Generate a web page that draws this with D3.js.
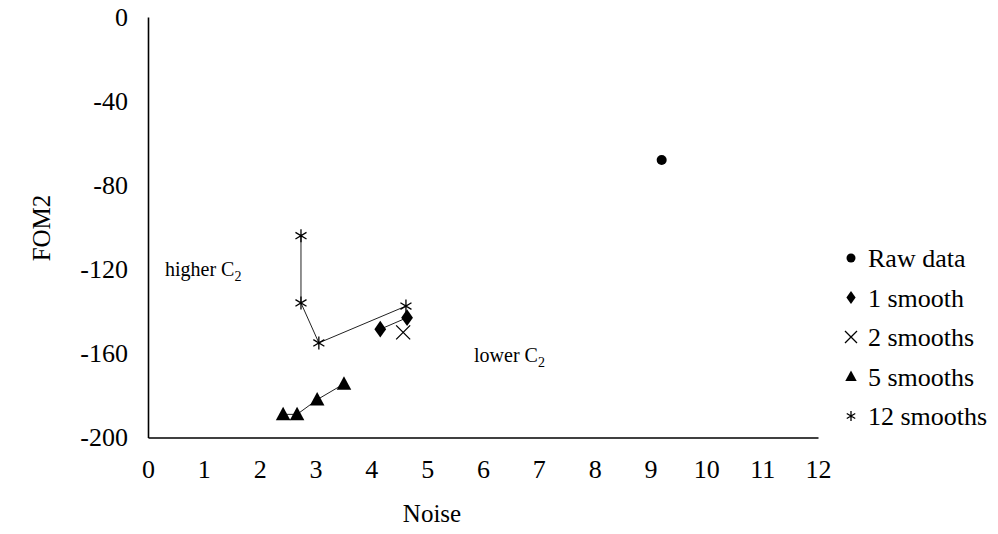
<!DOCTYPE html>
<html>
<head>
<meta charset="utf-8">
<script src="https://cdn.jsdelivr.net/npm/d3@7"></script>
<style>
  body { margin: 0; background: #fff; }
  svg text { font-family: "Liberation Serif", "Times New Roman", serif; fill: #000; }
</style>
</head>
<body>
<div id="chart"></div>
<script>
'use strict';

// series: [noise, FOM2]
const rawData = [[9.2, -68]];
const smooth1 = [[4.16, -148.5], [4.64, -143]];
const smooth2 = [[4.57, -150]];
const smooth5 = [[2.42, -189], [2.67, -189], [3.03, -182], [3.51, -174.5]];
const smooth12 = [[2.74, -104], [2.74, -136], [3.06, -155], [4.62, -137.5]];

const xTicks = [0, 1, 2, 3, 4, 5, 6, 7, 8, 9, 10, 11, 12];
const yTicks = [0, -40, -80, -120, -160, -200];

const legendNames = ['Raw data', '1 smooth', '2 smooths', '5 smooths', '12 smooths'];
const legendShapes = ['dot', 'diamond', 'cross', 'triangle', 'star'];

const width = 998;
const height = 534;
const serif = '"Liberation Serif", "Times New Roman", serif';

const svg = d3.select('#chart')
  .append('svg')
  .attr('width', width)
  .attr('height', height);

const x = d3.scaleLinear().domain([0, 12]).range([148, 818]);
const y = d3.scaleLinear().domain([-200, 0]).range([437.5, 17]);

// axes, no tick marks, only the labels (plain hyphen for negatives)
const xAxis = svg.append('g')
  .attr('transform', `translate(0,${y(-200)})`)
  .call(d3.axisBottom(x).tickValues(xTicks).tickSize(0).tickPadding(22).tickFormat(d => String(d)));
xAxis.attr('font-family', serif);
xAxis.select('.domain').attr('stroke', '#000').attr('stroke-width', 1.6);
xAxis.selectAll('text').attr('font-size', 26).style('font-family', serif);

const yAxis = svg.append('g')
  .attr('transform', `translate(${x(0)},0)`)
  .call(d3.axisLeft(y).tickValues(yTicks).tickSize(0).tickPadding(20).tickFormat(d => String(d)));
yAxis.attr('font-family', serif);
yAxis.select('.domain').attr('stroke', '#000').attr('stroke-width', 1.6);
yAxis.selectAll('text').attr('font-size', 26).style('font-family', serif);

svg.append('text')
  .attr('x', 432)
  .attr('y', 522)
  .attr('text-anchor', 'middle')
  .attr('font-size', 25)
  .text('Noise');

svg.append('text')
  .attr('transform', 'translate(50,228) rotate(-90)')
  .attr('text-anchor', 'middle')
  .attr('font-size', 25)
  .text('FOM2');

// marker shapes
function markerPath(shape, s) {
  if (shape === 'diamond') {
    return `M0,${-s * 0.6}L${s * 0.42},0L0,${s * 0.6}L${-s * 0.42},0Z`;
  }
  if (shape === 'cross') {
    return `M${-s / 2},${-s / 2}L${s / 2},${s / 2}M${-s / 2},${s / 2}L${s / 2},${-s / 2}`;
  }
  if (shape === 'triangle') {
    return `M0,${-s * 0.55}L${s * 0.52},${s * 0.42}L${-s * 0.52},${s * 0.42}Z`;
  }
  if (shape === 'star') {
    const h = s / 2;
    const d = h * 0.85;
    return `M0,${-h}L0,${h}M${-d},${-d * 0.6}L${d},${d * 0.6}M${-d},${d * 0.6}L${d},${-d * 0.6}`;
  }
  return '';
}

function drawMarker(g, shape, s) {
  if (shape === 'dot') {
    g.append('circle').attr('r', s / 2).attr('fill', '#000');
  } else if (shape === 'cross' || shape === 'star') {
    g.append('path').attr('d', markerPath(shape, s))
      .attr('fill', 'none').attr('stroke', '#000').attr('stroke-width', 1.3);
  } else {
    g.append('path').attr('d', markerPath(shape, s)).attr('fill', '#000');
  }
}

const line = d3.line().x(d => x(d[0])).y(d => y(d[1]));

const series = [
  { data: rawData, shape: 'dot', size: 10 },
  { data: smooth1, shape: 'diamond', size: 14 },
  { data: smooth2, shape: 'cross', size: 14 },
  { data: smooth5, shape: 'triangle', size: 14 },
  { data: smooth12, shape: 'star', size: 13 }
];

series.forEach(s => {
  if (s.data.length > 1) {
    svg.append('path')
      .attr('d', line(s.data))
      .attr('fill', 'none')
      .attr('stroke', '#222')
      .attr('stroke-width', 1);
  }
  svg.selectAll(null)
    .data(s.data)
    .enter()
    .append('g')
    .attr('transform', d => `translate(${x(d[0])},${y(d[1])})`)
    .each(function () { drawMarker(d3.select(this), s.shape, s.size); });
});

// annotations
const higher = svg.append('text').attr('x', 165).attr('y', 276).attr('font-size', 20);
higher.append('tspan').text('higher C');
higher.append('tspan').attr('font-size', 14).attr('dy', 5).text('2');

const lower = svg.append('text').attr('x', 474).attr('y', 362).attr('font-size', 20);
lower.append('tspan').text('lower C');
lower.append('tspan').attr('font-size', 14).attr('dy', 5).text('2');

// legend
const legendSizes = [9, 11, 12, 11, 10];
const legend = svg.selectAll('.legend')
  .data(legendNames)
  .enter()
  .append('g')
  .attr('class', 'legend')
  .attr('transform', (d, i) => `translate(851,${258 + i * 39.5})`);

legend.each(function (d, i) { drawMarker(d3.select(this), legendShapes[i], legendSizes[i]); });

legend.append('text')
  .attr('x', 17)
  .attr('y', 9)
  .attr('font-size', 26)
  .text(d => d);
</script>
</body>
</html>
